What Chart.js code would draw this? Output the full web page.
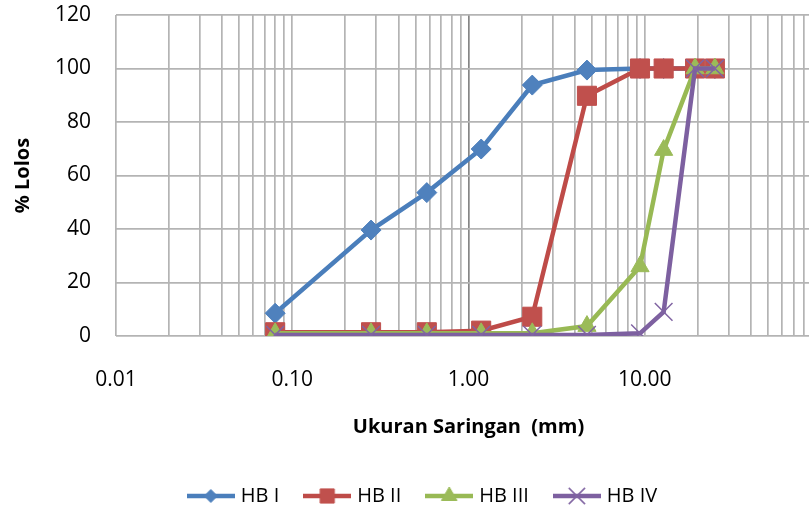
<!DOCTYPE html>
<html>
<head>
<meta charset="utf-8">
<title>Gradasi HB</title>
<script src="https://cdn.jsdelivr.net/npm/chart.js@4.4.0/dist/chart.umd.min.js"></script>
<style>
  html, body { margin: 0; padding: 0; background: #fff; overflow: hidden; }
  #wadah { width: 844px; height: 516px; }
</style>
</head>
<body>
<div id="wadah"><canvas id="grafikGradasi" width="844" height="516"></canvas></div>
<script>
// data gradasi
const ukuranSaringan = [0.08, 0.28, 0.58, 1.18, 2.3, 4.7, 9.4, 12.8, 19.3, 25];
const lolosHB1 = [8.5, 39.6, 53.6, 69.9, 93.8, 99.4, 100, 100, 100, 100];
const lolosHB2 = [1.4, 1.4, 1.4, 2.0, 7.2, 89.8, 100, 100, 100, 100];
const lolosHB3 = [1.0, 1.0, 1.0, 1.0, 1.0, 3.7, 26, 69.5, 100, 100];
const lolosHB4 = [0.4, 0.4, 0.4, 0.4, 0.4, 0.4, 1.0, 9.0, 100, 100];
const namaSeri = ['HB I', 'HB II', 'HB III', 'HB IV'];
const labelX = [0.01, 0.1, 1, 10];
const labelY = [0, 20, 40, 60, 80, 100, 120];

document.addEventListener('DOMContentLoaded', function() {
    const fontDasar = 'Open Sans';
    const warnaGaris = ['#4a7ebb', '#be4b48', '#98b954', '#7d60a0'];
    const warnaTitik = ['#4f81bd', '#c0504d', '#9bbb59', '#8064a2'];
    const gayaTitik = ['rectRot', 'rect', 'triangle', 'crossRot'];
    const radiusTitik = [10, 13.5, 10.5, 12.5];
    const radiusLegenda = [6.5, 10, 9, 11.5];
    const semuaLolos = [lolosHB1, lolosHB2, lolosHB3, lolosHB4];

    // garis grid log: 1..9 tiap dekade
    const gridX = [];
    for (let e = -2; e <= 1; e++) {
        for (let m = 1; m <= 9; m++) gridX.push(m * Math.pow(10, e));
    }
    gridX.push(100);

    function samaDengan(a, b) {
        return Math.abs(a - b) < 1e-9 * Math.max(1, Math.abs(b));
    }

    // gambar kecil untuk legenda: garis + penanda
    function buatIkonLegenda(i) {
        const c = document.createElement('canvas');
        c.width = 48;
        c.height = 26;
        const g = c.getContext('2d');
        g.strokeStyle = warnaGaris[i];
        g.lineWidth = 4.5;
        g.beginPath();
        g.moveTo(0, 13);
        g.lineTo(48, 13);
        g.stroke();
        g.fillStyle = warnaTitik[i];
        g.strokeStyle = warnaTitik[i];
        g.lineWidth = gayaTitik[i] === 'crossRot' ? 1.5 : 1;
        Chart.helpers.drawPoint(g, {
            pointStyle: gayaTitik[i],
            radius: radiusLegenda[i],
            rotation: 0,
            borderWidth: g.lineWidth
        }, 24, 13);
        return c;
    }

    const datasets = semuaLolos.map((nilai, i) => ({
        label: namaSeri[i],
        data: ukuranSaringan.map((x, j) => ({ x: x, y: nilai[j] })),
        borderColor: warnaGaris[i],
        backgroundColor: warnaTitik[i],
        borderWidth: 4.5,
        pointStyle: gayaTitik[i],
        pointRadius: radiusTitik[i],
        pointBackgroundColor: warnaTitik[i],
        pointBorderColor: warnaTitik[i],
        pointBorderWidth: gayaTitik[i] === 'crossRot' ? 1.5 : 1,
        tension: 0,
        order: 3 - i
    }));

    const ikon = namaSeri.map((_, i) => buatIkonLegenda(i));

    const ctx = document.getElementById('grafikGradasi').getContext('2d');
    new Chart(ctx, {
        type: 'scatter',
        data: { datasets: datasets },
        options: {
            responsive: false,
            animation: false,
            devicePixelRatio: 1,
            showLine: true,
            layout: { padding: { left: 27, right: 23, top: 15, bottom: 0 } },
            plugins: {
                tooltip: { enabled: false },
                legend: {
                    position: 'bottom',
                    labels: {
                        usePointStyle: true,
                        pointStyleWidth: 40,
                        padding: 28,
                        color: '#000',
                        font: { family: fontDasar, size: 20 },
                        generateLabels: function(chart) {
                            return chart.data.datasets.map((ds, i) => ({
                                text: ds.label,
                                pointStyle: ikon[i],
                                fillStyle: warnaTitik[i],
                                strokeStyle: warnaGaris[i],
                                lineWidth: 0,
                                fontColor: '#000',
                                hidden: false,
                                datasetIndex: i
                            }));
                        }
                    }
                }
            },
            scales: {
                x: {
                    type: 'logarithmic',
                    min: 0.01,
                    max: 100,
                    afterBuildTicks: function(skala) {
                        skala.ticks = gridX.map(v => ({ value: v }));
                    },
                    afterFit: function(skala) {
                        skala.height = 122;
                    },
                    ticks: {
                        autoSkip: false,
                        maxRotation: 0,
                        padding: 0,
                        color: '#000',
                        font: { family: fontDasar, size: 21 },
                        callback: function(v) {
                            return labelX.some(l => samaDengan(v, l)) ? v.toFixed(2) : '';
                        }
                    },
                    grid: {
                        drawTicks: true,
                        tickLength: 31,
                        tickColor: 'rgba(0,0,0,0)',
                        lineWidth: 1.7,
                        color: function(c) {
                            return c.tick && samaDengan(c.tick.value, 1) ? '#868686' : '#b4b4b4';
                        }
                    },
                    border: { display: false },
                    title: {
                        display: true,
                        text: 'Ukuran Saringan  (mm)',
                        color: '#000',
                        font: { family: fontDasar, size: 20, weight: 'bold' },
                        padding: { top: 0, bottom: 19 }
                    }
                },
                y: {
                    min: 0,
                    max: 120,
                    afterBuildTicks: function(skala) {
                        skala.ticks = labelY.map(v => ({ value: v }));
                    },
                    afterFit: function(skala) {
                        skala.width = 89;
                    },
                    ticks: {
                        padding: 0,
                        color: '#000',
                        font: { family: fontDasar, size: 21 }
                    },
                    grid: {
                        drawTicks: true,
                        tickLength: 25,
                        tickColor: 'rgba(0,0,0,0)',
                        lineWidth: 1.7,
                        color: '#b4b4b4'
                    },
                    border: { display: false },
                    title: {
                        display: true,
                        text: '% Lolos',
                        color: '#000',
                        font: { family: fontDasar, size: 20, weight: 'bold' },
                        padding: { top: -16, bottom: 0 }
                    }
                }
            }
        }
    });
});
</script>
</body>
</html>
